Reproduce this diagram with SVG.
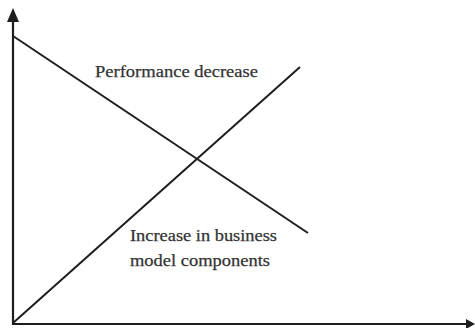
<svg xmlns="http://www.w3.org/2000/svg" width="475" height="328" viewBox="0 0 475 328">
<style>
.ax{stroke:#1e1e1e;stroke-width:2.2;fill:none}
.ln{stroke:#1e1e1e;stroke-width:2;fill:none}
.t{font-family:"Liberation Serif","DejaVu Serif",serif;font-size:17px;fill:#333;stroke:#333;stroke-width:0.25}
</style>
<rect width="475" height="328" fill="#fff"/>
<g id="connectors">
<line class="ax" x1="13" y1="20" x2="13" y2="325"/>
<polygon points="13,8 7,22 19,22" fill="#1e1e1e"/>
<line class="ax" x1="12" y1="324" x2="468" y2="324"/>
<polygon points="475,324 466,319 466,329" fill="#1e1e1e"/>
<line class="ln" x1="13" y1="36" x2="308" y2="233"/>
<line class="ln" x1="13" y1="323" x2="300" y2="67"/>
</g>
<g id="label-performance">
<text class="t" x="95" y="77" textLength="163" lengthAdjust="spacingAndGlyphs">Performance decrease</text>
</g>
<g id="label-increase">
<text class="t" x="130" y="241" textLength="147" lengthAdjust="spacingAndGlyphs">Increase in business</text>
<text class="t" x="130" y="266" textLength="140" lengthAdjust="spacingAndGlyphs">model components</text>
</g>
</svg>
